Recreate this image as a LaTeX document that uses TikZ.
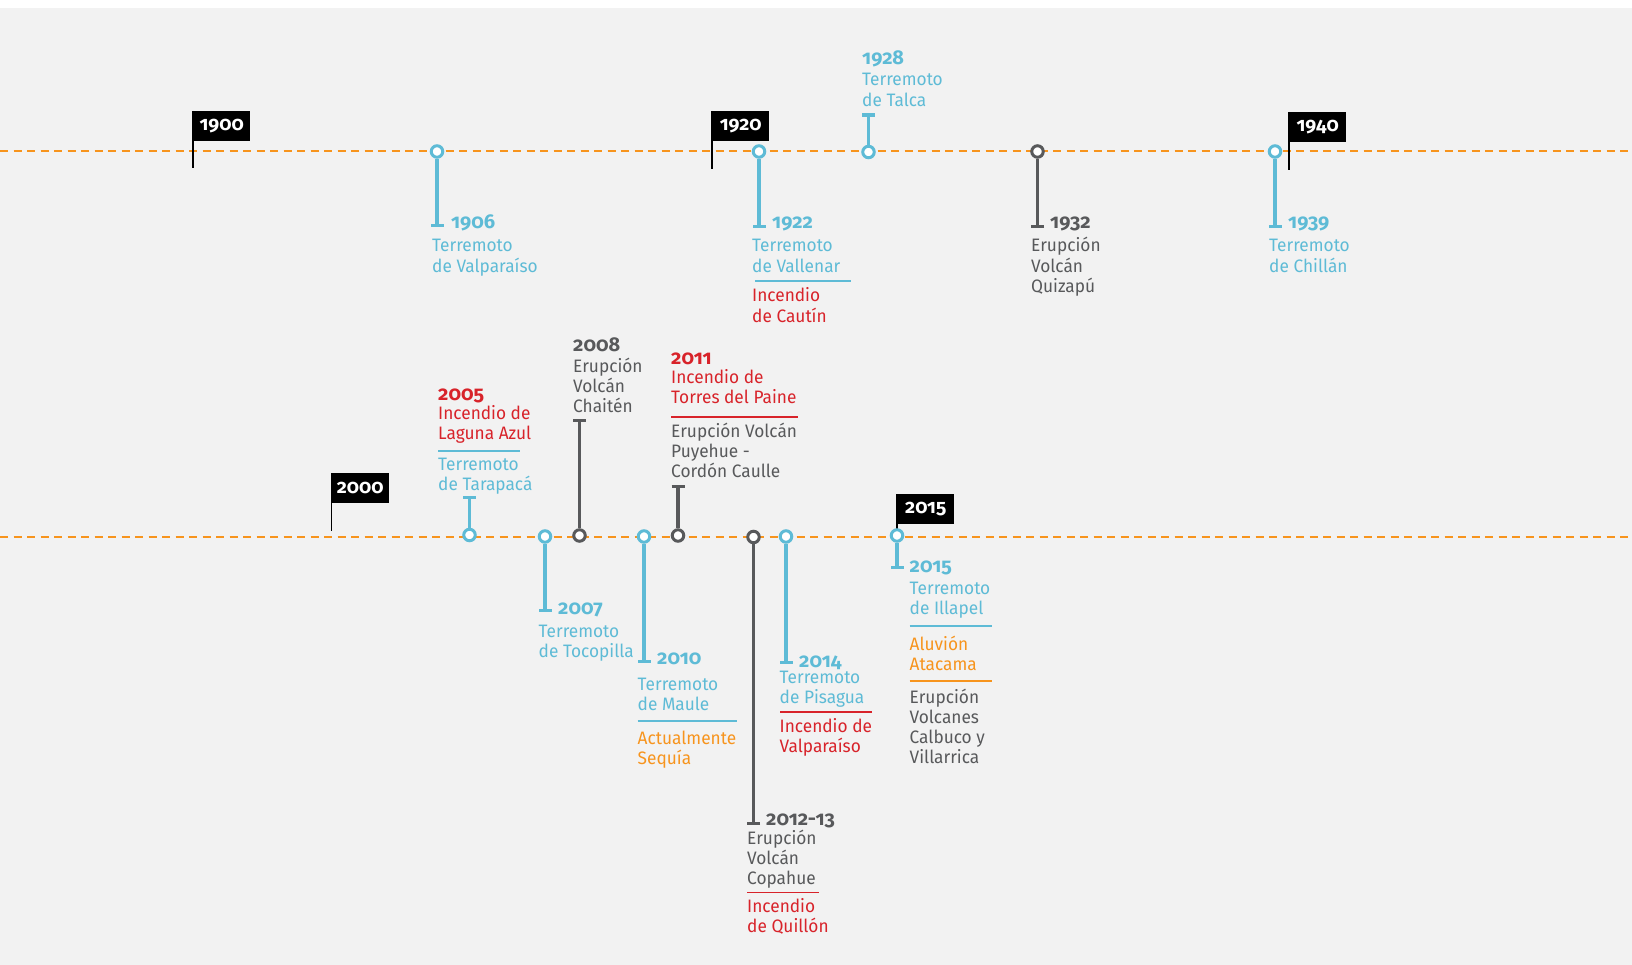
\documentclass[tikz,border=0pt]{standalone}
\usepackage{fontspec}
\setmainfont[Numbers=OldStyle,FakeStretch=0.96]{Fira Sans}
\newfontfamily\yearfont[Numbers=OldStyle,FakeStretch=1.0]{Fira Sans}
\usetikzlibrary{arrows.meta}
\definecolor{cblue}{RGB}{94,187,214}
\definecolor{cgray}{RGB}{88,89,91}
\definecolor{cred}{RGB}{216,35,42}
\definecolor{corange}{RGB}{247,148,29}
\definecolor{bgray}{RGB}{242,242,242}
\newcommand\stk[1]{\vtop{\baselineskip=20.2pt\lineskiplimit=-30pt\lineskip=0pt #1}}
\tikzset{
  ev/.style={circle, draw=#1, fill=white, line width=3pt, minimum size=11.5pt, inner sep=0pt},
  stem/.style={draw=#1, line width=3.2pt, -{Bar[width=13pt]}},
  yr/.style={font=\yearfont\fontsize{20}{20}\selectfont\bfseries, text=#1, anchor=base west, inner sep=0pt},
  txt/.style={font=\fontsize{18}{20.2}\selectfont, text=#1, anchor=base west, inner sep=0pt},
  sepline/.style={draw=#1, line width=1.8pt},
  flagbox/.style={fill=black, text=white, font=\yearfont\fontsize{19.5}{20}\selectfont\bfseries, minimum width=57pt, minimum height=30pt, anchor=north west, inner sep=0pt},
  pole/.style={draw=black, line width=1.5pt},
  axis/.style={draw=corange, line width=1.8pt, dash pattern=on 8pt off 5.5pt}
}
\begin{document}
\begin{tikzpicture}[x=1pt,y=-1pt]
\useasboundingbox (0,0) rectangle (1632,965);
\fill[white] (0,0) rectangle (1632,8);
\fill[bgray] (0,8) rectangle (1632,965);
% axes
\coordinate (a1l) at (0,151);
\coordinate (a1r) at (1632,151);
\coordinate (a2l) at (0,537);
\coordinate (a2r) at (1632,537);
\draw[axis] (a1l) -- (a1r);
\draw[axis] (a2l) -- (a2r);
% flags
\node[flagbox] (f1900) at (193,111) {1900};
\coordinate (p1900) at (193,168);
\draw[pole] (f1900.north west) -- (p1900);
\node[flagbox] (f1920) at (712,111) {1920};
\coordinate (p1920) at (712,169);
\draw[pole] (f1920.north west) -- (p1920);
\node[flagbox] (f1940) at (1289,112) {1940};
\coordinate (p1940) at (1289,170);
\draw[pole] (f1940.north west) -- (p1940);
\node[flagbox] (f2000) at (331.5,473) {2000};
\coordinate (p2000) at (331.5,531);
\draw[pole] (f2000.north west) -- (p2000);
\node[flagbox] (f2015) at (897,494) {2015};
\coordinate (p2015) at (897,532);
\draw[pole] (f2015.north west) -- (p2015);
% ---------- top events
\node[ev=cblue] (e1906) at (437,151.5) {};
\coordinate (b1906) at (437,227);
\draw[stem=cblue] (e1906) -- (b1906);
\node[yr=cblue] (y1906) at (451,228.5) {1906};
\node[txt=cblue] (t1906) at (432,252) {\stk{\hbox{Terremoto}\hbox{de Valparaíso}}};

\node[ev=cblue] (e1922) at (759,151.5) {};
\coordinate (b1922) at (759,228);
\draw[stem=cblue] (e1922) -- (b1922);
\node[yr=cblue] (y1922) at (772,229) {1922};
\node[txt=cblue] (t1922) at (752,252) {\stk{\hbox{Terremoto}\hbox{de Vallenar}}};
\draw[sepline=cblue] (755,281) -- (851,281);
\node[txt=cred] (r1922) at (752,302) {\stk{\hbox{Incendio}\hbox{de Cautín}}};

\node[ev=cblue] (e1928) at (868.5,152) {};
\coordinate (b1928) at (868.5,113.5);
\draw[stem=cblue] (e1928) -- (b1928);
\node[yr=cblue] (y1928) at (862,65) {1928};
\node[txt=cblue] (t1928) at (862,86) {\stk{\hbox{Terremoto}\hbox{de Talca}}};

\node[ev=cgray] (e1932) at (1037.5,151.5) {};
\coordinate (b1932) at (1037.5,228);
\draw[stem=cgray] (e1932) -- (b1932);
\node[yr=cgray] (y1932) at (1050,229) {1932};
\node[txt=cgray] (t1932) at (1031,252) {\stk{\hbox{Erupción}\hbox{Volcán}\hbox{Quizapú}}};

\node[ev=cblue] (e1939) at (1275,151.5) {};
\coordinate (b1939) at (1275,228);
\draw[stem=cblue] (e1939) -- (b1939);
\node[yr=cblue] (y1939) at (1288,229) {1939};
\node[txt=cblue] (t1939) at (1269,252) {\stk{\hbox{Terremoto}\hbox{de Chillán}}};
% ---------- bottom events
\node[ev=cblue] (e2005) at (469.5,535) {};
\coordinate (b2005) at (469.5,495.5);
\draw[stem=cblue] (e2005) -- (b2005);
\node[yr=cred] (y2005) at (438,400) {2005};
\node[txt=cred] (t2005) at (438,419.5) {\stk{\hbox{Incendio de}\hbox{Laguna Azul}}};
\draw[sepline=cblue] (438,451) -- (520,451);
\node[txt=cblue] (u2005) at (438,470) {\stk{\hbox{Terremoto}\hbox{de Tarapacá}}};

\node[ev=cblue] (e2007) at (545,536.5) {};
\coordinate (b2007) at (545,612);
\draw[stem=cblue] (e2007) -- (b2007);
\node[yr=cblue] (y2007) at (558,614.5) {2007};
\node[txt=cblue] (t2007) at (538.5,637) {\stk{\hbox{Terremoto}\hbox{de Tocopilla}}};

\node[ev=cgray] (e2008) at (579.5,535.5) {};
\coordinate (b2008) at (579.5,419);
\draw[stem=cgray] (e2008) -- (b2008);
\node[yr=cgray] (y2008) at (573,352) {2008};
\node[txt=cgray] (t2008) at (573,372) {\stk{\hbox{Erupción}\hbox{Volcán}\hbox{Chaitén}}};

\node[ev=cblue] (e2010) at (644,536.5) {};
\coordinate (b2010) at (644,663);
\draw[stem=cblue] (e2010) -- (b2010);
\node[yr=cblue] (y2010) at (657,664) {2010};
\node[txt=cblue] (t2010) at (637.5,690) {\stk{\hbox{Terremoto}\hbox{de Maule}}};
\draw[sepline=cblue] (637.5,721) -- (737,721);
\node[txt=corange] (u2010) at (637.5,744.5) {\stk{\hbox{Actualmente}\hbox{Sequía}}};

\node[ev=cgray] (e2011) at (678,535.5) {};
\coordinate (b2011) at (678,485);
\draw[stem=cgray] (e2011) -- (b2011);
\node[yr=cred] (y2011) at (671,364) {2011};
\node[txt=cred] (t2011) at (671,383.5) {\stk{\hbox{Incendio de}\hbox{Torres del Paine}}};
\draw[sepline=cred] (671,417) -- (798,417);
\node[txt=cgray] (u2011) at (671,437.5) {\stk{\hbox{Erupción Volcán}\hbox{Puyehue -}\hbox{Cordón Caulle}}};

\node[ev=cgray] (e2012) at (753.5,537) {};
\coordinate (b2012) at (753.5,825);
\draw[stem=cgray] (e2012) -- (b2012);
\node[yr=cgray] (y2012) at (766,825.5) {2012-13};
\node[txt=cgray] (t2012) at (747,844) {\stk{\hbox{Erupción}\hbox{Volcán}\hbox{Copahue}}};
\draw[sepline=cred] (747,892.5) -- (819,892.5);
\node[txt=cred] (u2012) at (747,912.5) {\stk{\hbox{Incendio}\hbox{de Quillón}}};

\node[ev=cblue] (e2014) at (786,536.5) {};
\coordinate (b2014) at (786,664);
\draw[stem=cblue] (e2014) -- (b2014);
\node[yr=cblue] (y2014) at (799,667) {2014};
\node[txt=cblue] (t2014) at (779.5,683.5) {\stk{\hbox{Terremoto}\hbox{de Pisagua}}};
\draw[sepline=cred] (780,712) -- (872,712);
\node[txt=cred] (u2014) at (779.5,732.5) {\stk{\hbox{Incendio de}\hbox{Valparaíso}}};

\node[ev=cblue] (e2015) at (897,535.5) {};
\coordinate (b2015) at (897,569);
\draw[stem=cblue] (e2015) -- (b2015);
\node[yr=cblue] (y2015) at (909.5,572) {2015};
\node[txt=cblue] (t2015) at (909.5,594) {\stk{\hbox{Terremoto}\hbox{de Illapel}}};
\draw[sepline=cblue] (909.5,626) -- (992,626);
\node[txt=corange] (u2015) at (909.5,650) {\stk{\hbox{Aluvión}\hbox{Atacama}}};
\draw[sepline=corange] (909.5,681) -- (992,681);
\node[txt=cgray] (v2015) at (909.5,703) {\stk{\hbox{Erupción}\hbox{Volcanes}\hbox{Calbuco y}\hbox{Villarrica}}};
\end{tikzpicture}
\end{document}
